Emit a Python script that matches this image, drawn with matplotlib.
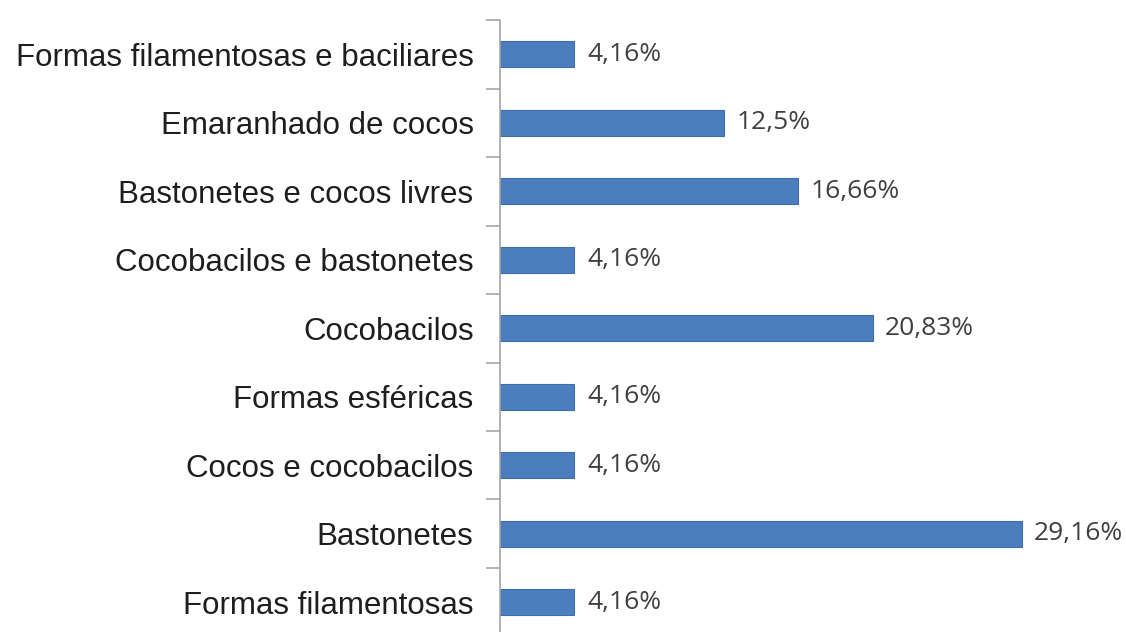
import matplotlib
matplotlib.use("Agg")
import matplotlib.pyplot as plt

categories = [
    "Formas filamentosas",
    "Bastonetes",
    "Cocos e cocobacilos",
    "Formas esféricas",
    "Cocobacilos",
    "Cocobacilos e bastonetes",
    "Bastonetes e cocos livres",
    "Emaranhado de cocos",
    "Formas filamentosas e baciliares",
]
values = [4.16, 29.16, 4.16, 4.16, 20.83, 4.16, 16.66, 12.5, 4.16]
value_labels = ["4,16%", "29,16%", "4,16%", "4,16%", "20,83%", "4,16%", "16,66%", "12,5%", "4,16%"]

fig = plt.figure(figsize=(11.26, 6.32), dpi=100)
ax = fig.add_axes([500 / 1126, -0.007, 626 / 1126, 0.975])

y = list(range(len(categories)))
ax.barh(y, values, height=0.38, color="#4A7EBF", edgecolor="#3E6DA8", linewidth=0.8)

ax.set_xlim(0, 35)
ax.set_ylim(-0.5, len(categories) - 0.5)

for s in ["top", "right", "bottom"]:
    ax.spines[s].set_visible(False)
ax.spines["left"].set_color("#A6A6A6")
ax.spines["left"].set_linewidth(1.2)
ax.set_xticks([])

ax.set_yticks(y)
ax.set_yticklabels(categories, fontsize=22.5, color="#1E1E1E", family="Liberation Sans")
ax.tick_params(axis="y", which="major", length=0, pad=19)
ax.set_yticks([i - 0.5 for i in range(len(categories) + 1)], minor=True)
ax.tick_params(axis="y", which="minor", length=10, color="#A6A6A6", width=1.2, direction="out")

for yi, v, lab in zip(y, values, value_labels):
    ax.annotate(lab, (v, yi), xytext=(9, 0), textcoords="offset points",
                va="center", ha="left", fontsize=19, color="#404040", family="Open Sans")

fig.savefig("out.png", dpi=100)
